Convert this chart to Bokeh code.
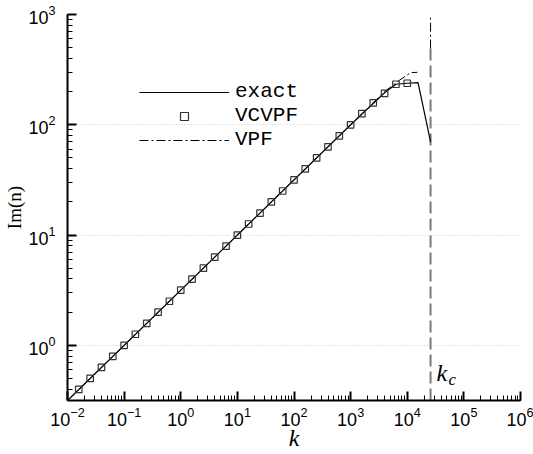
from bokeh.plotting import figure
from bokeh.models import Legend, LegendItem, Range1d, Label
from bokeh.embed import file_html
from bokeh.resources import INLINE

# ---- data ----
marker_k = [0.0158, 0.0251, 0.0398, 0.0631, 0.1, 0.158, 0.251, 0.398, 0.631, 1.0,
            1.58, 2.51, 3.98, 6.31, 10.0, 15.8, 25.1, 39.8, 63.1, 100.0,
            158.0, 251.0, 398.0, 631.0, 1000.0, 1580.0, 2510.0, 3980.0, 6310.0, 10000.0]
marker_n = [0.398, 0.501, 0.631, 0.794, 1.0, 1.26, 1.58, 2.0, 2.51, 3.16,
            3.98, 5.01, 6.31, 7.94, 10.0, 12.6, 15.8, 20.0, 25.1, 31.6,
            39.8, 50.1, 63.1, 79.4, 100.0, 126.0, 158.0, 193.0, 233.0, 238.0]

exact_k = [0.01, 1000.0, 3980.0, 6310.0, 10000.0, 15500.0, 25800.0]
exact_n = [0.316, 100.0, 195.0, 233.0, 238.0, 241.0, 70.0]

vpf_k = [0.01, 1000.0, 3980.0, 7410.0, 11500.0, 15100.0, float("nan"), 25800.0, 25800.0]
vpf_n = [0.316, 100.0, 200.0, 255.0, 297.0, 299.0, float("nan"), 490.0, 1000.0]

k_c = 25800.0
kc_line_n = [0.316, 490.0]

x_lim = (0.01, 1.0e6)
y_lim = (0.316, 1000.0)

p = figure(width=533, height=454, x_axis_type="log", y_axis_type="log",
           x_range=Range1d(*x_lim), y_range=Range1d(*y_lim),
           output_backend="svg", toolbar_location=None,
           min_border_left=67, min_border_top=14, min_border_right=13, min_border_bottom=54)
p.outline_line_color = None
p.background_fill_color = "white"
p.border_fill_color = "white"

p.xgrid.grid_line_color = None
p.ygrid.grid_line_color = "#cccccc"
p.ygrid.grid_line_dash = "1 2"
p.ygrid.grid_line_width = 1

for ax in (p.xaxis[0], p.yaxis[0]):
    ax.axis_line_width = 2
    ax.axis_line_color = "black"
    ax.major_tick_in = 9
    ax.major_tick_out = 0
    ax.minor_tick_in = 5
    ax.minor_tick_out = 0
    ax.major_tick_line_width = 2
    ax.minor_tick_line_width = 1
    ax.major_tick_line_color = "black"
    ax.minor_tick_line_color = "black"
    ax.major_label_text_font = "Liberation Sans"
    ax.major_label_text_font_size = "18px"
    ax.major_label_text_color = "black"
    ax.axis_label_text_color = "black"

p.xaxis.major_label_standoff = 6
p.xaxis.axis_label = "k"
p.xaxis.axis_label_text_font = "Liberation Serif"
p.xaxis.axis_label_text_font_style = "italic"
p.xaxis.axis_label_text_font_size = "24px"
p.xaxis.axis_label_standoff = -4

p.yaxis.major_label_standoff = 12
p.yaxis.axis_label = "Im(n)"
p.yaxis.axis_label_text_font = "Liberation Serif"
p.yaxis.axis_label_text_font_style = "normal"
p.yaxis.axis_label_text_font_size = "19px"
p.yaxis.axis_label_standoff = 0

# k_c dashed line
p.line([k_c, k_c], kc_line_n, line_color="#7a7a7a", line_width=2, line_dash="12 5")

r_exact = p.line(exact_k, exact_n, line_color="black", line_width=1.2)
r_vpf = p.line(vpf_k, vpf_n, line_color="black", line_width=1, line_dash="9 3 2 3")
r_mark = p.scatter(marker_k, marker_n, marker="square", size=6.5, fill_color=None,
                   line_color="#333333", line_width=1.2)

lab_k = Label(x=k_c, y=0.56, x_offset=6, text="k", text_font="Liberation Serif",
              text_font_style="italic", text_font_size="24px", text_baseline="middle",
              text_color="black")
lab_c = Label(x=k_c, y=0.56, x_offset=18, y_offset=-6, text="c", text_font="Liberation Serif",
              text_font_style="italic", text_font_size="17px", text_baseline="middle",
              text_color="black")
p.add_layout(lab_k)
p.add_layout(lab_c)

legend = Legend(items=[LegendItem(label="exact", renderers=[r_exact]),
                       LegendItem(label="VCVPF", renderers=[r_mark]),
                       LegendItem(label="VPF", renderers=[r_vpf])],
                location=(72, 249), orientation="vertical",
                glyph_width=90, glyph_height=20, label_height=20, spacing=1,
                label_standoff=6, padding=0, margin=0,
                label_text_font="Liberation Mono", label_text_font_size="21px",
                label_text_color="black",
                background_fill_alpha=0, border_line_color=None)
p.add_layout(legend)

open("out.html", "w").write(file_html(p, INLINE))
